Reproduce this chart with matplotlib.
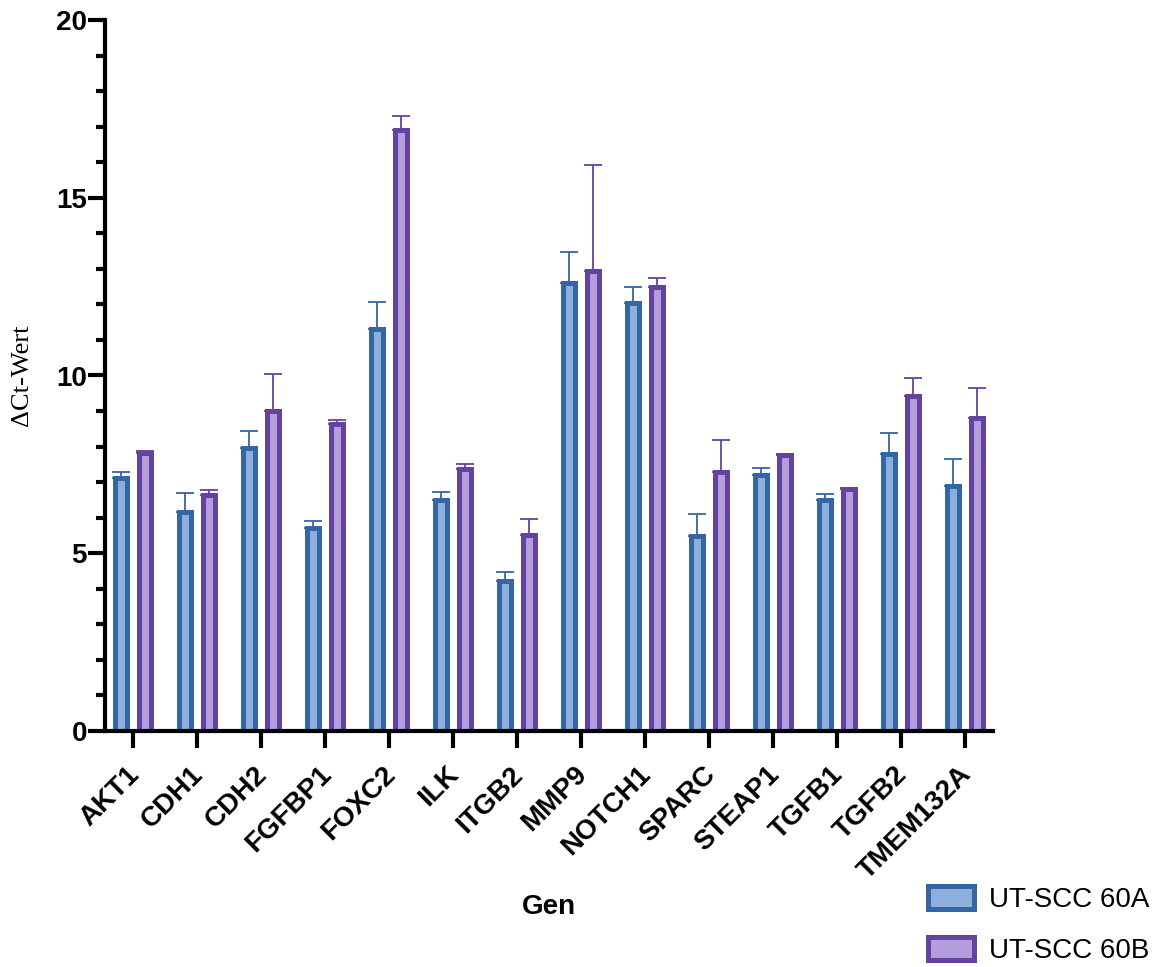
import matplotlib.pyplot as plt
import numpy as np
from matplotlib.ticker import MultipleLocator
from matplotlib.transforms import ScaledTranslation

plt.rcParams['font.family'] = ['Liberation Sans', 'DejaVu Sans']

genes = ['AKT1', 'CDH1', 'CDH2', 'FGFBP1', 'FOXC2', 'ILK', 'ITGB2', 'MMP9',
         'NOTCH1', 'SPARC', 'STEAP1', 'TGFB1', 'TGFB2', 'TMEM132A']

# mean dCt and upper SD for both cell lines
mean_a = [7.11, 6.16, 7.97, 5.72, 11.31, 6.50, 4.23, 12.61, 12.05, 5.48, 7.19, 6.50, 7.79, 6.88]
sd_a = [0.18, 0.53, 0.48, 0.18, 0.77, 0.21, 0.23, 0.85, 0.45, 0.62, 0.21, 0.18, 0.59, 0.76]
mean_b = [7.81, 6.64, 9.00, 8.64, 16.91, 7.38, 5.50, 12.93, 12.49, 7.29, 7.75, 6.80, 9.41, 8.81]
sd_b = [0.07, 0.15, 1.04, 0.11, 0.40, 0.14, 0.45, 3.00, 0.24, 0.90, 0.04, 0.03, 0.51, 0.85]

labels = ['UT-SCC 60A', 'UT-SCC 60B']
edge_colors = ['#3366a3', '#6342a0']
fill_colors = ['#8eaedb', '#b39ddb']

fig = plt.figure(figsize=(11.65, 9.67), dpi=100)
ax = fig.add_axes([105 / 1165, 1 - 731 / 967, 888 / 1165, 711 / 967])

x = np.arange(len(genes))
offset = 0.1875
width = 0.172

for means, sds, dx, ec, fc, lab in zip([mean_a, mean_b], [sd_a, sd_b], [-offset, offset],
                                       edge_colors, fill_colors, labels):
    ax.bar(x + dx, means, width, color=fc, edgecolor=ec, linewidth=3.6, label=lab, zorder=2)
    ax.errorbar(x + dx, means, yerr=[np.zeros(len(means)), sds], fmt='none',
                ecolor=ec, elinewidth=1.3, capsize=6.5, capthick=1.3, zorder=1)

ax.set_xlim(-0.4375, len(genes) - 1 + 0.4375)
ax.set_ylim(0, 20)

ax.yaxis.set_major_locator(MultipleLocator(5))
ax.yaxis.set_minor_locator(MultipleLocator(1))
ax.tick_params(axis='y', which='major', length=12, width=3, labelsize=20, pad=1)
ax.tick_params(axis='y', which='minor', length=6.5, width=3)
ax.tick_params(axis='x', which='major', length=12, width=3, labelsize=20, pad=10)
for t in ax.get_yticklabels():
    t.set_fontweight('bold')

ax.set_xticks(x)
ax.set_xticklabels(genes, rotation=45, ha='right', va='top', rotation_mode='anchor',
                   fontweight='bold')
shift = ScaledTranslation(-7 / 100, 0, fig.dpi_scale_trans)
for t in ax.get_xticklabels():
    t.set_transform(t.get_transform() + shift)

for side in ['top', 'right']:
    ax.spines[side].set_visible(False)
for side in ['left', 'bottom']:
    ax.spines[side].set_linewidth(3)
    ax.spines[side].set_zorder(5)

ax.set_ylabel('\u0394Ct-Wert', family=['Liberation Serif', 'DejaVu Serif'], fontsize=19)
ax.yaxis.set_label_coords(-0.081, 0.5)
fig.text(549 / 1165, 1 - 907 / 967, 'Gen', fontsize=20, fontweight='bold',
         ha='center', va='center')

leg = fig.legend(loc='lower right', bbox_to_anchor=(0.988, 0.002), frameon=False, fontsize=20,
                 handlelength=1.65, handleheight=0.9, handletextpad=0.55, labelspacing=0.85,
                 borderpad=0.05, borderaxespad=0)

fig.savefig('out.png', dpi=100)
